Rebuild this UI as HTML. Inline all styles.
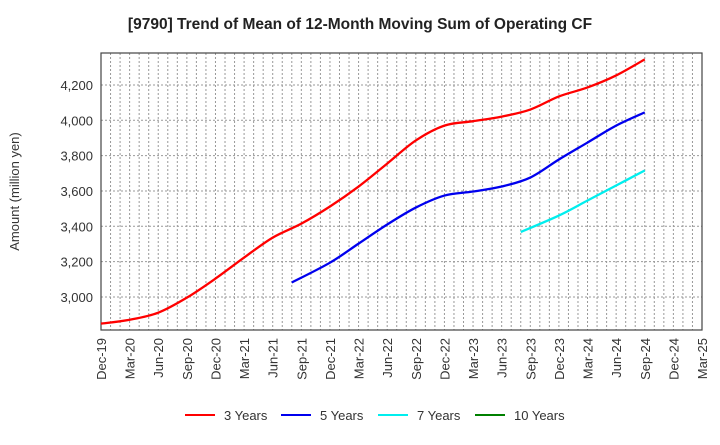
<!DOCTYPE html>
<html><head><meta charset="utf-8"><style>
body{margin:0;background:#fff;font-family:"Liberation Sans",Arial,sans-serif}
svg text{font-family:"Liberation Sans",Arial,sans-serif}
</style></head><body>
<svg id="c" width="720" height="440" xmlns="http://www.w3.org/2000/svg"></svg>
<script>
const xLabels=["Dec-19","Mar-20","Jun-20","Sep-20","Dec-20","Mar-21","Jun-21","Sep-21","Dec-21","Mar-22","Jun-22","Sep-22","Dec-22","Mar-23","Jun-23","Sep-23","Dec-23","Mar-24","Jun-24","Sep-24","Dec-24","Mar-25"];
const yTicks=[3000,3200,3400,3600,3800,4000,4200];
const s3Months=[0,3,6,9,12,15,18,21,24,27,30,33,36,39,42,45,48,51,54,57];
const s3=[2849,2871,2911,2996,3104,3223,3336,3415,3512,3625,3755,3886,3970,3995,4021,4061,4135,4186,4254,4345];
const s5Months=[20,24,27,30,33,36,39,42,45,48,51,54,57];
const s5=[3082,3194,3302,3410,3506,3574,3597,3625,3676,3778,3874,3970,4045];
const s7Months=[44,48,51,54,57];
const s7=[3368,3461,3546,3631,3716];
const svg=document.getElementById('c');const NS='http://www.w3.org/2000/svg';
const L=101,R=702,T=53,B=330,yMin=2813,yMax=4381;
const x=m=>L+m*(R-L)/63;
const y=v=>B-(v-yMin)*(B-T)/(yMax-yMin);
function el(t,a,p){const e=document.createElementNS(NS,t);for(const k in a)e.setAttribute(k,a[k]);(p||svg).appendChild(e);return e;}
const title=el('text',{x:360,y:29,'text-anchor':'middle','font-size':15.5,'font-weight':'bold',fill:'#222'});
title.textContent='[9790]  Trend of Mean of 12-Month Moving Sum of Operating CF';


const grid=el('g',{stroke:'#999','stroke-width':1,'stroke-dasharray':'2,2'});


for(let m=1;m<63;m++){const xx=L+m*(R-L)/63;el('line',{x1:xx,x2:xx,y1:T,y2:B},grid);}
yTicks.forEach(v=>{el('line',{x1:L,x2:R,y1:y(v),y2:y(v)},grid);
const t=el('text',{x:L-8,y:y(v)+5,'text-anchor':'end','font-size':13,fill:'#333'});t.textContent=v.toLocaleString('en-US');

});
xLabels.forEach((lb,i)=>{const xx=x(i*3);const t=el('text',{transform:`translate(${xx+5},${B+8}) rotate(-90)`,'text-anchor':'end','font-size':13,fill:'#333'});t.textContent=lb;

});
const frame=el('rect',{x:L,y:T,width:R-L,height:B-T,fill:'none',stroke:'#444','stroke-width':1.2});


const yt=el('text',{transform:`translate(19,${(T+B)/2}) rotate(-90)`,'text-anchor':'middle','font-size':13,fill:'#333'});yt.textContent='Amount (million yen)';


function path(pts){let d=`M${pts[0][0]},${pts[0][1]}`;for(let i=0;i<pts.length-1;i++){const p0=pts[i-1]||pts[i],p1=pts[i],p2=pts[i+1],p3=pts[i+2]||p2;
d+=` C${p1[0]+(p2[0]-p0[0])/6},${p1[1]+(p2[1]-p0[1])/6} ${p2[0]-(p3[0]-p1[0])/6},${p2[1]-(p3[1]-p1[1])/6} ${p2[0]},${p2[1]}`;}return d;}
function series(months,data,color,name){const pts=data.map((v,i)=>[x(months[i]),y(v)]);
const p=el('path',{d:path(pts),fill:'none',stroke:color,'stroke-width':2.3});

}
series(s3Months,s3,'#ff0000','line-3-years');
series(s5Months,s5,'#0000ee','line-5-years');
series(s7Months,s7,'#00eeee','line-7-years');
const leg=[['3 Years','#ff0000',185],['5 Years','#0000ee',281],['7 Years','#00eeee',378],['10 Years','#008000',475]];
leg.forEach(([n,c,lx])=>{const g=el('g',{});


el('line',{x1:lx,x2:lx+30,y1:415,y2:415,stroke:c,'stroke-width':2},g);
const t=el('text',{x:lx+39,y:420,'font-size':13,fill:'#333'},g);t.textContent=n;});
</script>
</body></html>
